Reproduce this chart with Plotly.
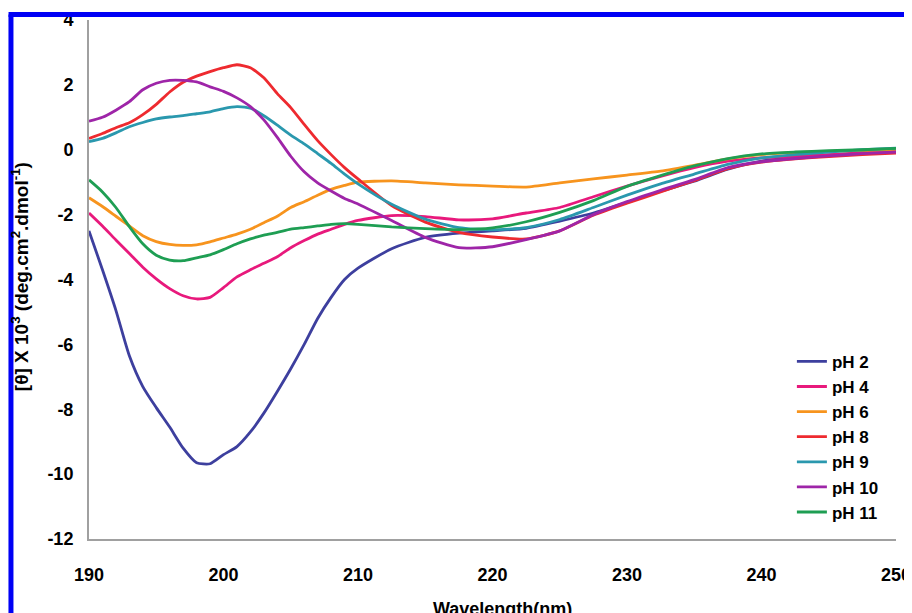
import plotly.graph_objects as go

wavelength = [190, 191, 192, 193, 194, 195, 196, 197, 198, 199, 200,
              201, 202, 203, 204, 205, 206, 207, 208, 209, 210,
              212.5, 215, 217.5, 220, 222.5, 225, 227.5, 230, 232.5,
              235, 237.5, 240, 242.5, 245, 247.5, 250]

ph2 = [-2.5, -3.7, -4.95, -6.35, -7.3, -7.95, -8.55, -9.2, -9.65, -9.68, -9.4,
       -9.15, -8.7, -8.12, -7.45, -6.75, -6.0, -5.2, -4.55, -4.0, -3.65,
       -3.05, -2.7, -2.57, -2.5, -2.42, -2.2, -1.95, -1.62, -1.28,
       -0.97, -0.6, -0.35, -0.25, -0.17, -0.08, 0.0]
ph4 = [-1.95, -2.35, -2.78, -3.2, -3.62, -3.98, -4.28, -4.5, -4.6, -4.55, -4.25,
       -3.92, -3.7, -3.5, -3.3, -3.02, -2.8, -2.6, -2.45, -2.3, -2.18,
       -2.03, -2.06, -2.16, -2.13, -1.95, -1.78, -1.45, -1.12, -0.82,
       -0.55, -0.35, -0.25, -0.2, -0.15, -0.1, -0.06]
ph6 = [-1.48, -1.75, -2.05, -2.35, -2.65, -2.83, -2.92, -2.95, -2.93, -2.84, -2.72,
       -2.6, -2.45, -2.25, -2.05, -1.78, -1.6, -1.4, -1.22, -1.1, -1.0,
       -0.96, -1.02, -1.08, -1.12, -1.15, -1.02, -0.9, -0.78, -0.66,
       -0.48, -0.28, -0.15, -0.09, -0.05, -0.02, 0.0]
ph8 = [0.35, 0.5, 0.68, 0.83, 1.08, 1.4, 1.78, 2.08, 2.27, 2.41, 2.53,
       2.62, 2.53, 2.22, 1.73, 1.3, 0.78, 0.28, -0.15, -0.55, -0.9,
       -1.72, -2.23, -2.55, -2.69, -2.75, -2.5, -2.02, -1.65, -1.3,
       -0.95, -0.58, -0.38, -0.28, -0.21, -0.15, -0.1]
ph9 = [0.25, 0.35, 0.52, 0.71, 0.84, 0.95, 1.01, 1.05, 1.11, 1.17, 1.27,
       1.33, 1.28, 1.05, 0.76, 0.45, 0.18, -0.12, -0.42, -0.75, -1.05,
       -1.68, -2.14, -2.4, -2.47, -2.4, -2.15, -1.78, -1.4, -1.05,
       -0.75, -0.45, -0.25, -0.15, -0.07, 0.0, 0.05]
ph10 = [0.88, 1.0, 1.22, 1.48, 1.85, 2.05, 2.14, 2.14, 2.09, 1.94, 1.8,
        1.6, 1.33, 0.92, 0.38, -0.2, -0.68, -1.02, -1.27, -1.5, -1.67,
        -2.18, -2.7, -3.02, -2.99, -2.77, -2.5, -2.0, -1.6, -1.25,
        -0.92, -0.55, -0.37, -0.27, -0.19, -0.12, -0.07]
ph11 = [-0.93, -1.3, -1.78, -2.37, -2.9, -3.25, -3.4, -3.42, -3.33, -3.24, -3.08,
        -2.9, -2.75, -2.63, -2.55, -2.45, -2.4, -2.35, -2.3, -2.28, -2.3,
        -2.38, -2.43, -2.46, -2.41, -2.22, -1.93, -1.57, -1.13, -0.8,
        -0.5, -0.27, -0.13, -0.07, -0.03, 0.0, 0.04]

series_names = ["pH 2", "pH 4", "pH 6", "pH 8", "pH 9", "pH 10", "pH 11"]
series_values = [ph2, ph4, ph6, ph8, ph9, ph10, ph11]
series_colors = ["#3D3F9E", "#E8197C", "#F7941E", "#EE2A2F", "#2A98AE", "#9E25A8", "#1E9E53"]

x_ticks = [190, 200, 210, 220, 230, 240, 250]
y_ticks = [-12, -10, -8, -6, -4, -2, 0, 2, 4]

FONT = "Liberation Sans, Arial, sans-serif"

fig = go.Figure()
for i, (name, vals, col) in enumerate(zip(series_names, series_values, series_colors)):
    fig.add_trace(go.Scatter(
        x=wavelength, y=vals, name=name, mode="lines",
        line=dict(color=col, width=2.8, shape="spline", smoothing=0.6),
        legendgroup=f"g{i}",
    ))

# the page body has an 8px default margin, so the figure is 8px smaller
fig.update_layout(
    width=904, height=605,
    margin=dict(l=81, r=1, t=12, b=74),
    paper_bgcolor="white", plot_bgcolor="white",
    font=dict(family=FONT, color="black"),
    showlegend=True,
    legend=dict(
        x=0.871, y=0.376, xanchor="left", yanchor="top",
        bgcolor="rgba(0,0,0,0)", borderwidth=0,
        font=dict(family=FONT, size=17, weight="bold", color="black"),
        traceorder="grouped", tracegroupgap=0,
    ),
    xaxis=dict(
        range=[190, 250], tickvals=x_ticks, ticktext=[str(v) for v in x_ticks],
        showgrid=False, zeroline=False, showline=True, linecolor="#A0A0A0", linewidth=2,
        ticks="", ticklabelstandoff=18, ticklabeloverflow="allow",
        tickfont=dict(family=FONT, size=18, weight="bold", color="black"),
    ),
    yaxis=dict(
        range=[-12, 4], tickvals=y_ticks, ticktext=[str(v) for v in y_ticks],
        showgrid=False, zeroline=False, showline=True, linecolor="#A0A0A0", linewidth=2,
        ticks="", ticklabelstandoff=10, ticklabeloverflow="allow",
        tickfont=dict(family=FONT, size=18, weight="bold", color="black"),
    ),
    annotations=[
        dict(text="Wavelength(nm)", xref="paper", yref="paper", x=0.513, y=-0.134,
             xanchor="center", yanchor="middle", showarrow=False,
             font=dict(family=FONT, size=18, weight="bold", color="black")),
        dict(text="[θ] X 10<sup>3</sup> (deg.cm<sup>2</sup>.dmol<sup>-1</sup>)",
             xref="paper", yref="paper", x=-0.0852, y=0.505, textangle=-90,
             xanchor="center", yanchor="middle", showarrow=False,
             font=dict(family=FONT, size=19, weight="bold", color="black")),
    ],
    shapes=[
        dict(type="line", xref="paper", yref="paper", x0=-0.0967, x1=-0.0967,
             y0=1.0106, y1=-0.2, line=dict(color="#0000F5", width=5)),
        dict(type="line", xref="paper", yref="paper", x0=-0.0997, x1=1.01,
             y0=1.0106, y1=1.0106, line=dict(color="#0000F5", width=5)),
    ],
)

fig.write_html("out.html")
